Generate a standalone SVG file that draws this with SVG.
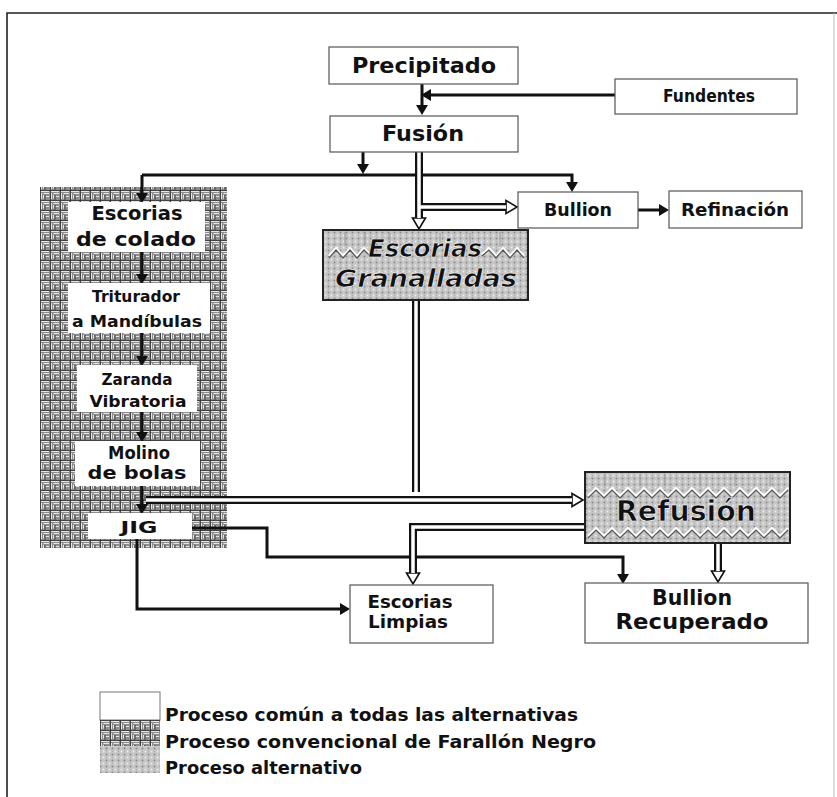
<svg xmlns="http://www.w3.org/2000/svg" width="837" height="797" viewBox="0 0 837 797">
<style>
.t{font-family:"DejaVu Sans","Liberation Sans",sans-serif;font-weight:bold;fill:#111;text-anchor:middle}
.box{fill:#fff;stroke:#555;stroke-width:1.2}
.ln{fill:none;stroke:#111;stroke-width:3}
.dbl{fill:none;stroke:#111;stroke-width:8;stroke-linejoin:miter}
.dbi{fill:none;stroke:#fff;stroke-width:3.5;stroke-linejoin:miter}
.zzw{fill:none;stroke:#fff;stroke-width:2}
.zzd{fill:none;stroke:#555;stroke-width:1.2}
</style>
<defs>
<pattern id="conv" width="10" height="10" patternUnits="userSpaceOnUse">
<rect width="10" height="10" fill="#8e8e8e"/>
<path d="M1,1.5 H9 M1.5,3 V9 M3.5,3.5 H9 M3.5,5 V8.5 M5.5,6.5 H9" stroke="#e6e6e6" stroke-width="1"/>
<path d="M0,0.5 H10 M0.5,0 V10 M5,5 V10" stroke="#3a3a3a" stroke-width="0.9"/>
</pattern>
<pattern id="alt" width="6" height="6" patternUnits="userSpaceOnUse">
<rect width="6" height="6" fill="#c6c6c6"/>
<circle cx="1.5" cy="1.5" r="1" fill="#ececec"/>
<circle cx="4.5" cy="4.5" r="1" fill="#8a8a8a"/>
<circle cx="4.5" cy="1.5" r="0.6" fill="#a8a8a8"/>
</pattern>
<marker id="ah" markerUnits="userSpaceOnUse" markerWidth="12" markerHeight="14" viewBox="0 -7 12 14" refX="0" refY="0" orient="auto">
<path d="M0,-6 L10,0 L0,6 z" fill="#111"/>
</marker>
<marker id="hh" markerUnits="userSpaceOnUse" markerWidth="16" markerHeight="18" viewBox="-1 -8 16 16" refX="0" refY="0" orient="auto">
<path d="M0,-6.5 L11,0 L0,6.5 z" fill="#fff" stroke="#111" stroke-width="1.6"/>
</marker>
</defs>

<rect width="837" height="797" fill="#fff"/>
<g id="frame">
<path d="M7,797 V13 H837" fill="none" stroke="#222" stroke-width="1.6"/>
<path d="M834,13 V797" fill="none" stroke="#bbb" stroke-width="1"/>
</g>

<g id="panel-convencional">
<rect x="40" y="187" width="187" height="361" fill="url(#conv)"/>
</g>

<g id="connectors">
<!-- Fundentes to main line -->
<path class="ln" d="M615,95 H431" marker-end="url(#ah)"/>
<path class="ln" d="M422,84 V105" marker-end="url(#ah)"/>
<!-- Fusion to horizontal distribution line -->
<path class="ln" d="M363,152 V164" marker-end="url(#ah)"/>
<path class="ln" d="M142,175 H572 V182" marker-end="url(#ah)"/>
<path class="ln" d="M142,175 V193" marker-end="url(#ah)"/>
<!-- Bullion to Refinacion -->
<path class="ln" d="M638,210 H659" marker-end="url(#ah)"/>
<!-- left chain -->
<path class="ln" d="M142,252 V274" marker-end="url(#ah)"/>
<path class="ln" d="M142,333 V356" marker-end="url(#ah)"/>
<path class="ln" d="M142,412 V432" marker-end="url(#ah)"/>
<path class="ln" d="M142,486 V504" marker-end="url(#ah)"/>
<!-- JIG to Bullion Recuperado -->
<path class="ln" d="M192,528 H267 V557 H623 V574" marker-end="url(#ah)"/>
<!-- JIG to Escorias Limpias -->
<path class="ln" d="M137,539 V609 H340" marker-end="url(#ah)"/>

<!-- double lines -->
<path class="dbl" d="M419,152 V218" marker-end="url(#hh)"/>
<path class="dbl" d="M423,207 H506" marker-end="url(#hh)"/>
<path class="dbi" d="M419,150 V218"/>
<path class="dbi" d="M418,207 H506"/>

<path class="dbl" d="M416,300 V492"/>
<path class="dbi" d="M416,300 V492"/>

<path class="dbl" d="M146,500 H572" marker-end="url(#hh)"/>
<path class="dbi" d="M146,500 H572"/>

<path class="dbl" d="M585,527 H413 V573" marker-end="url(#hh)"/>
<path class="dbi" d="M585,527 H413 V573"/>

<path class="dbl" d="M718,543 V571" marker-end="url(#hh)"/>
<path class="dbi" d="M718,541 V571"/>
</g>

<g id="precipitado">
<rect class="box" x="329" y="47" width="189" height="37"/>
<text class="t" x="424" y="73" font-size="22" textLength="144" lengthAdjust="spacingAndGlyphs">Precipitado</text>
</g>
<g id="fundentes">
<rect class="box" x="615" y="79" width="182" height="35"/>
<text class="t" x="709" y="102" font-size="17" textLength="92" lengthAdjust="spacingAndGlyphs">Fundentes</text>
</g>
<g id="fusion">
<rect class="box" x="330" y="116" width="188" height="36"/>
<text class="t" x="423" y="141" font-size="22" textLength="82" lengthAdjust="spacingAndGlyphs">Fusión</text>
</g>
<g id="bullion">
<rect class="box" x="518" y="192" width="120" height="36"/>
<text class="t" x="578" y="216" font-size="17" textLength="68" lengthAdjust="spacingAndGlyphs">Bullion</text>
</g>
<g id="refinacion">
<rect class="box" x="669" y="191" width="133" height="37"/>
<text class="t" x="735" y="216" font-size="17" textLength="108" lengthAdjust="spacingAndGlyphs">Refinación</text>
</g>

<g id="escorias-granalladas">
<rect x="323" y="230" width="205" height="70" fill="url(#alt)" stroke="#222" stroke-width="2"/>
<path d="M345,232 V246 M365,232 V244 M390,233 V247 M440,233 V246 M470,233 V246 M500,232 V247" stroke="#999" stroke-width="1"/>
<polyline class="zzw" points="329,256 336,248 343,256 350,248 357,256 364,248 370,254"/>
<polyline class="zzd" points="329,258 336,250 343,258 350,250 357,258 364,250 370,256"/>
<polyline class="zzw" points="482,254 489,248 496,256 503,248 510,256 517,248 524,256"/>
<polyline class="zzd" points="482,256 489,250 496,258 503,250 510,258 517,250 524,258"/>
<text class="t" x="425" y="257" font-size="24" font-style="italic" textLength="114" lengthAdjust="spacingAndGlyphs" stroke="#fff" stroke-width="0.6">Escorias</text>
<text class="t" x="426" y="287" font-size="24" font-style="italic" textLength="182" lengthAdjust="spacingAndGlyphs" stroke="#fff" stroke-width="0.6">Granalladas</text>
</g>

<g id="escorias-colado">
<rect x="68" y="202" width="137" height="50" fill="#fff"/>
<text class="t" x="137" y="220" font-size="20" textLength="91" lengthAdjust="spacingAndGlyphs">Escorias</text>
<text class="t" x="136" y="246" font-size="20" textLength="120" lengthAdjust="spacingAndGlyphs">de colado</text>
</g>
<g id="triturador">
<rect x="68" y="283" width="142" height="50" fill="#fff"/>
<text class="t" x="136" y="302" font-size="16" textLength="88" lengthAdjust="spacingAndGlyphs">Triturador</text>
<text class="t" x="137" y="327" font-size="16" textLength="130" lengthAdjust="spacingAndGlyphs">a Mandíbulas</text>
</g>
<g id="zaranda">
<rect x="77" y="365" width="120" height="47" fill="#fff"/>
<text class="t" x="137" y="385" font-size="16" textLength="71" lengthAdjust="spacingAndGlyphs">Zaranda</text>
<text class="t" x="138" y="407" font-size="16" textLength="97" lengthAdjust="spacingAndGlyphs">Vibratoria</text>
</g>
<g id="molino">
<rect x="75" y="441" width="125" height="45" fill="#fff"/>
<text class="t" x="139" y="459" font-size="18" textLength="62" lengthAdjust="spacingAndGlyphs">Molino</text>
<text class="t" x="137" y="479" font-size="18" textLength="99" lengthAdjust="spacingAndGlyphs">de bolas</text>
</g>
<g id="jig">
<rect x="88" y="513" width="104" height="26" fill="#fff"/>
<text class="t" x="139" y="533" font-size="16" textLength="37" lengthAdjust="spacingAndGlyphs">JIG</text>
</g>

<g id="refusion">
<rect x="585" y="472" width="205" height="71" fill="url(#alt)" stroke="#222" stroke-width="2"/>
<path d="M605,474 V486 M640,474 V486 M665,474 V486 M700,474 V486 M735,474 V486 M770,474 V486" stroke="#999" stroke-width="1"/>
<polyline class="zzw" points="588,496 596,488 604,496 612,488 620,496 628,488 636,496 644,488 652,496 660,488 668,496 676,488 684,496 692,488 700,496 708,488 716,496 724,488 732,496 740,488 748,496 756,488 764,496 772,488 780,496 788,488"/>
<polyline class="zzd" points="588,498 596,490 604,498 612,490 620,498 628,490 636,498 644,490 652,498 660,490 668,498 676,490 684,498 692,490 700,498 708,490 716,498 724,490 732,498 740,490 748,498 756,490 764,498 772,490 780,498 788,490"/>
<polyline class="zzw" points="588,536 596,528 604,536 612,528 620,536 628,528 636,536 644,528 652,536 660,528 668,536 676,528 684,536 692,528 700,536 708,528 716,536 724,528 732,536 740,528 748,536 756,528 764,536 772,528 780,536 788,528"/>
<polyline class="zzd" points="588,538 596,530 604,538 612,530 620,538 628,530 636,538 644,530 652,538 660,530 668,538 676,530 684,538 692,530 700,538 708,530 716,538 724,530 732,538 740,530 748,538 756,530 764,538 772,530 780,538 788,530"/>
<text class="t" x="686" y="521" font-size="28" textLength="140" lengthAdjust="spacingAndGlyphs" stroke="#fff" stroke-width="0.6">Refusión</text>
</g>

<g id="bullion-recuperado">
<rect class="box" x="585" y="583" width="223" height="60"/>
<text class="t" x="692" y="605" font-size="21" textLength="80" lengthAdjust="spacingAndGlyphs">Bullion</text>
<text class="t" x="692" y="629" font-size="21" textLength="153" lengthAdjust="spacingAndGlyphs">Recuperado</text>
</g>
<g id="escorias-limpias">
<rect class="box" x="350" y="585" width="143" height="58"/>
<text class="t" x="410" y="608" font-size="18" textLength="85" lengthAdjust="spacingAndGlyphs">Escorias</text>
<text class="t" x="408" y="628" font-size="18" textLength="80" lengthAdjust="spacingAndGlyphs">Limpias</text>
</g>

<g id="legend">
<rect x="100" y="692" width="60" height="28" fill="#fff" stroke="#777" stroke-width="1"/>
<rect x="100" y="720" width="60" height="26" fill="url(#conv)"/>
<rect x="100" y="746" width="60" height="27" fill="url(#alt)"/>
<text class="t" x="165" y="721" font-size="17" text-anchor="start" style="text-anchor:start" textLength="413" lengthAdjust="spacingAndGlyphs">Proceso común a todas las alternativas</text>
<text class="t" x="165" y="748" font-size="17" style="text-anchor:start" textLength="431" lengthAdjust="spacingAndGlyphs">Proceso convencional de Farallón Negro</text>
<text class="t" x="165" y="774" font-size="17" style="text-anchor:start" textLength="197" lengthAdjust="spacingAndGlyphs">Proceso alternativo</text>
</g>
</svg>
